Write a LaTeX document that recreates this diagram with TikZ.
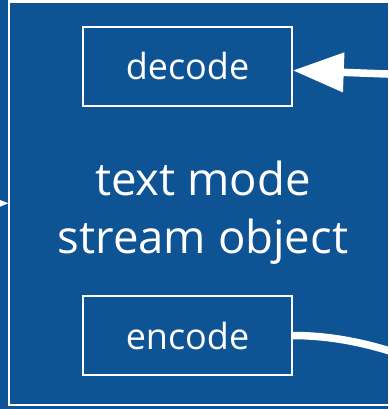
\documentclass[tikz,border=0pt]{standalone}
\usepackage{fontspec}
\setmainfont{Open Sans}
\usetikzlibrary{arrows.meta}
\definecolor{bgblue}{RGB}{14,83,148}
\begin{document}
\begin{tikzpicture}[x=1pt,y=-1pt,
  op/.style={draw=white, line width=1.5pt, minimum width=209pt, minimum height=79pt,
    inner sep=0pt, text=white, font=\fontsize{36}{43}\selectfont},
  flow/.style={white, line width=7.5pt},
  bigtip/.style={-{Triangle[length=51pt,width=38pt]}}]
\useasboundingbox (0,0) rectangle (388,409);
\fill[bgblue] (0,0) rectangle (388,409);
\begin{scope}
\clip (0,0) rectangle (388,409);
\node[draw=white, line width=2.5pt, minimum width=451pt, minimum height=403.5pt,
  inner sep=0pt, outer sep=0pt, anchor=north west] (frame) at (9,1.5) {};
\node[op] (dec) at (187.5,66.5) {decode};
\node[op] (enc) at (187.5,335.5) {encode};
\node[text=white, align=center, font=\fontsize{45.5}{58}\selectfont, inner sep=0pt,
  anchor=north] (obj) at (203,160.5) {text mode\\stream object};
\coordinate (inR) at (440,76);
\coordinate (outR) at (440,370);
\coordinate (inL) at (-60,204);
\draw[flow, bigtip] (inR) -- (dec);
\draw[flow] (enc.east) .. controls +(49,0) and (390.7,348.1) .. (outR);
\draw[flow, bigtip] (inL) -- (frame.west);
\end{scope}
\end{tikzpicture}
\end{document}
